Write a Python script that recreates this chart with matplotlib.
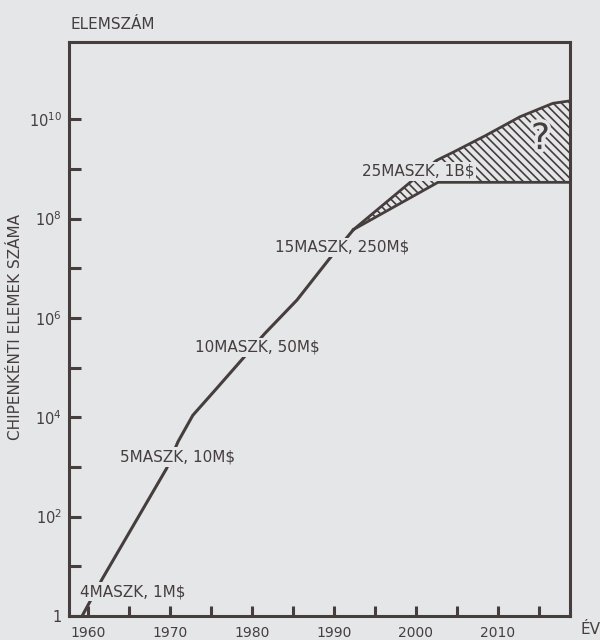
import numpy as np
import matplotlib
matplotlib.use("Agg")
import matplotlib.pyplot as plt
import matplotlib.patheffects as pe

# main growth line (year, log10 of element count)
line_years = [1959.3, 1961.8, 1969.6, 1971.0, 1972.8, 1975.7, 1979.1,
              1981.6, 1985.5, 1989.5, 1992.4]
line_logs = [0.00, 0.76, 2.97, 3.51, 4.04, 4.58, 5.22, 5.69, 6.36, 7.20, 7.78]

# uncertain future band ("?")
top_years = [1992.4, 2002.5, 2004.6, 2008.6, 2012.7, 2016.7, 2018.8]
top_logs = [7.78, 9.17, 9.34, 9.68, 10.05, 10.32, 10.37]
low_years = [1992.4, 2002.7, 2018.8]
low_logs = [7.78, 8.73, 8.73]

labels = ["4MASZK, 1M$", "5MASZK, 10M$", "10MASZK, 50M$",
          "15MASZK, 250M$", "25MASZK, 1B$"]
label_years = [1959.0, 1963.9, 1973.05, 1982.8, 1993.4]
label_logs = [0.49, 3.20, 5.41, 7.42, 8.95]

x_major = [1960, 1970, 1980, 1990, 2000, 2010]
x_minor = [1965, 1975, 1985, 1995, 2005, 2015]
y_major_exp = [0, 2, 4, 6, 8, 10]
y_minor_exp = [1, 3, 5, 7, 9]

bg = "#e4e6e8"
ink = "#463d3d"

plt.rcParams["font.family"] = ["DejaVu Sans"]
plt.rcParams["mathtext.default"] = "regular"
plt.rcParams["hatch.linewidth"] = 1.2

fig = plt.figure(figsize=(6, 6.4), dpi=100, facecolor=bg)
ax = fig.add_axes([0.115, 0.0375, 0.835, 0.8965])
ax.set_facecolor(bg)
ax.set_yscale("log")
ax.set_xlim(1957.7, 2018.8)
ax.set_ylim(1, 10 ** 11.55)

# hatched band, drawn as one closed polygon
poly_x = list(top_years) + list(low_years[::-1])
poly_y = [10 ** v for v in top_logs] + [10 ** v for v in low_logs[::-1]]
ax.fill(poly_x, poly_y, facecolor="none", edgecolor=ink, linewidth=0,
        hatch="\\\\\\\\", zorder=2)
ax.plot(top_years, [10 ** v for v in top_logs], color=ink, lw=2.0, zorder=3)
ax.plot(low_years, [10 ** v for v in low_logs], color=ink, lw=2.0, zorder=3)

ax.plot(line_years, [10 ** v for v in line_logs], color=ink, lw=2.2,
        solid_capstyle="round", zorder=3)

for txt, xx, yy in zip(labels, label_years, label_logs):
    ax.text(xx, 10 ** yy, txt, ha="left", va="center", fontsize=11,
            color=ink, parse_math=False, zorder=5,
            bbox=dict(facecolor=bg, edgecolor="none", pad=1.5))

ax.text(2015.2, 10 ** 9.6, "?", ha="center", va="center", fontsize=26,
        color=ink, zorder=5,
        path_effects=[pe.withStroke(linewidth=5, foreground=bg)])

for s in ax.spines.values():
    s.set_linewidth(2.2)
    s.set_color(ink)

ax.set_xticks(x_major)
ax.set_xticklabels([str(v) for v in x_major])
ax.set_xticks(x_minor, minor=True)
ax.set_yticks([10.0 ** e for e in y_major_exp])
ax.set_yticklabels(["1" if e == 0 else r"$10^{%d}$" % e for e in y_major_exp])
ax.set_yticks([10.0 ** e for e in y_minor_exp], minor=True)
ax.yaxis.set_minor_formatter(matplotlib.ticker.NullFormatter())

ax.tick_params(axis="x", which="both", direction="in", length=7, width=2.2,
               color=ink, labelcolor=ink, labelsize=10, pad=7)
ax.tick_params(axis="y", which="both", direction="in", length=8.5, width=2.2,
               color=ink, labelcolor=ink, labelsize=10.5, pad=5)

fig.text(71 / 600, 1 - 24.5 / 640, "ELEMSZÁM", ha="left", va="center",
         fontsize=11, color=ink)
fig.text(16 / 600, 1 - 327 / 640, "CHIPENKÉNTI ELEMEK SZÁMA", rotation=90,
         ha="center", va="center", fontsize=11, color=ink)
fig.text(591 / 600, 1 - 630 / 640, "ÉV", ha="center", va="center",
         fontsize=11, color=ink)

fig.savefig("out.png", dpi=100, facecolor=bg)
